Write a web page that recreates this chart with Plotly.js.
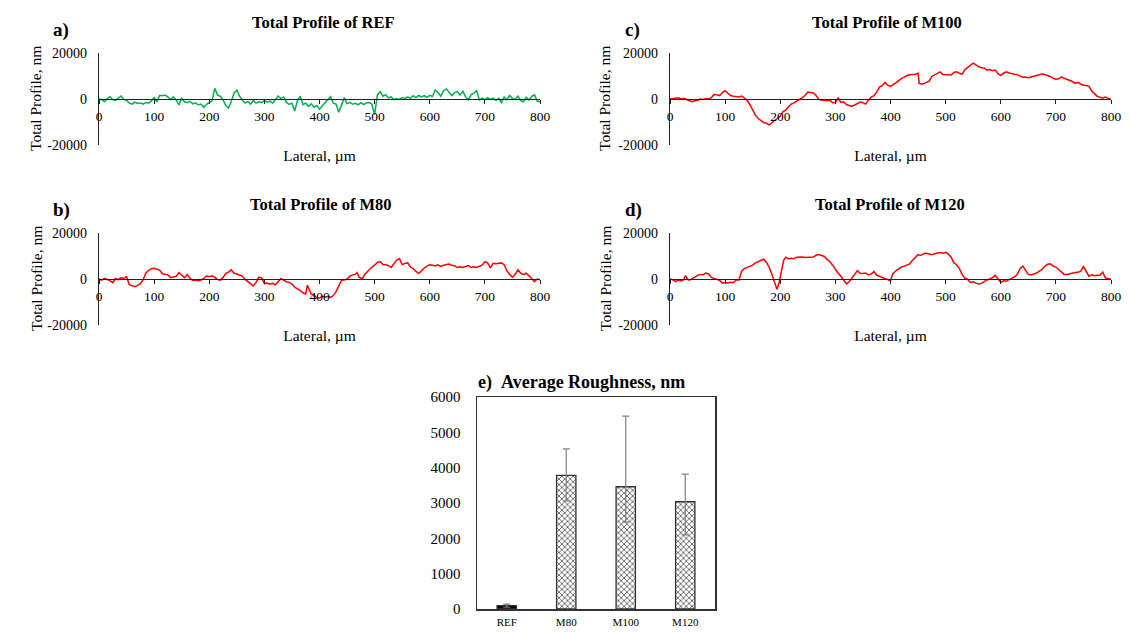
<!DOCTYPE html>
<html>
<head>
<meta charset="utf-8">
<script src="https://cdn.plot.ly/plotly-3.0.1.min.js"></script>
<style>html,body{margin:0;padding:0;background:#fff;}#chart{width:1135px;height:632px;}</style>
</head>
<body>
<div id="chart"></div>
<script>
// ---------- DATA ----------
// Profiles: [lateral position (µm), total profile (nm)]
const profileREF = [[0,0],[5,-300],[10,-1200],[15,200],[20,1000],[25,-300],[30,-600],[35,300],[40,1300],[45,-200],[50,-600],[55,-1800],[60,-2200],[65,-1400],[70,-1900],[75,-1700],[80,-2200],[85,-1500],[90,-1800],[95,-800],[100,600],[105,-1300],[110,1600],[115,1400],[120,1700],[125,800],[130,-200],[135,900],[140,-400],[145,-2600],[150,300],[155,-1200],[160,-1600],[165,-1000],[170,-2100],[175,-1700],[180,-2500],[185,-2200],[190,-3600],[195,-2300],[200,-1400],[205,-800],[210,4600],[215,1800],[220,1200],[225,-400],[230,-2800],[235,-3900],[240,-1000],[245,2500],[250,3900],[255,1200],[260,-500],[265,-1800],[270,-1100],[275,-2200],[280,-700],[285,-1800],[290,-1200],[295,-1600],[300,-700],[305,-1400],[310,-900],[315,-1800],[320,-300],[325,1300],[330,200],[335,900],[340,-1500],[345,-2300],[350,-1800],[355,-5200],[360,-700],[365,1200],[370,-2500],[375,-1800],[380,-3200],[385,-2100],[390,-3600],[395,-2800],[400,-4500],[405,-2900],[410,-1600],[415,-300],[420,1000],[425,-1800],[430,-2200],[435,-5800],[440,-3000],[445,600],[450,-2100],[455,-1500],[460,-2300],[465,-1900],[470,-2500],[475,-1600],[480,-2400],[485,-1700],[490,-1500],[495,-2200],[500,-6800],[505,1800],[510,3200],[515,1200],[520,1900],[525,500],[530,900],[535,-300],[540,200],[545,-200],[550,600],[555,200],[560,900],[565,300],[570,1400],[575,600],[580,1600],[585,900],[590,1500],[595,700],[600,1600],[605,1100],[610,3900],[615,2800],[620,1200],[625,3600],[630,4400],[635,2900],[640,1500],[645,2800],[650,3200],[655,1700],[660,3400],[665,900],[670,-300],[675,1900],[680,2500],[685,3600],[690,-400],[695,400],[700,-300],[705,600],[710,-200],[715,400],[720,-600],[725,300],[730,-1500],[735,900],[740,-300],[745,1500],[750,200],[755,-200],[760,1300],[765,-700],[770,-1200],[775,800],[780,-400],[785,1200],[790,1800],[795,-900],[800,-1200]];

const profileM80 = [[0,0],[5,-500],[10,300],[15,-200],[20,-800],[25,-1600],[30,200],[35,-300],[40,500],[45,300],[50,1000],[55,-2500],[60,-3000],[65,-3300],[70,-2800],[75,-2000],[80,-300],[85,2500],[90,3800],[95,4500],[100,4700],[105,4400],[110,3900],[115,2300],[120,2000],[125,1800],[130,600],[135,900],[140,1200],[145,2800],[150,1500],[155,600],[160,2000],[165,300],[170,-600],[175,-400],[180,-800],[185,-500],[190,300],[195,1300],[200,1000],[205,1400],[210,800],[215,-200],[220,-500],[225,600],[230,2500],[235,3000],[240,4000],[245,2500],[250,2200],[255,1800],[260,1300],[265,-200],[270,-1200],[275,-2000],[280,-3000],[285,-1500],[290,800],[295,500],[300,-2000],[305,-1800],[310,-2300],[315,-1900],[320,-2500],[325,-1200],[330,200],[335,-500],[340,-1200],[345,-1500],[350,-2200],[355,-3500],[360,-4200],[365,-5000],[370,-6000],[375,-6500],[378,-2700],[382,-4500],[385,-6500],[390,-7000],[395,-8200],[400,-8300],[405,-7500],[410,-7800],[415,-7600],[420,-8000],[425,-7200],[430,-5500],[435,-3000],[440,-500],[445,-400],[450,0],[455,1200],[460,1800],[465,2000],[468,2800],[472,700],[478,200],[482,2000],[490,4000],[495,5200],[500,6000],[505,7200],[510,7600],[515,6300],[520,6200],[525,5800],[530,5000],[535,6500],[540,8200],[545,8800],[550,6200],[555,6800],[560,7000],[565,5200],[570,4500],[575,3300],[580,2500],[585,3500],[590,4800],[595,5600],[600,6200],[605,6000],[610,5700],[615,6200],[620,5500],[625,6000],[630,6400],[635,6500],[640,6000],[645,5800],[650,5000],[655,5300],[660,5000],[665,5500],[670,5800],[675,5000],[680,5300],[685,5000],[690,5600],[695,6000],[700,7500],[705,7000],[710,4800],[715,6800],[720,6600],[725,6800],[730,7000],[735,6200],[740,3500],[745,2000],[750,800],[755,2000],[760,4000],[765,2500],[770,1900],[775,2500],[780,1500],[785,200],[790,-1200],[795,0],[800,-300]];

const profileM100 = [[0,0],[5,200],[10,600],[15,500],[20,0],[25,300],[30,-200],[35,-800],[40,-1200],[45,-800],[50,-600],[55,0],[60,-200],[65,200],[70,0],[75,600],[80,2000],[85,1800],[90,1500],[95,2800],[100,3600],[105,2500],[110,1500],[115,1200],[120,1200],[125,900],[130,1300],[135,200],[140,-600],[145,-2500],[150,-5000],[155,-7000],[160,-8500],[165,-9500],[170,-10200],[175,-10500],[180,-11300],[185,-10200],[190,-9300],[195,-8800],[200,-7500],[205,-5500],[210,-4800],[215,-3500],[220,-2200],[225,-1700],[230,-1000],[235,-200],[240,600],[245,1500],[250,3000],[255,2800],[260,2600],[265,1500],[270,-200],[275,-500],[280,-400],[285,-700],[290,-500],[295,-1600],[300,-1500],[305,500],[310,-1500],[315,-1200],[320,-2400],[325,-2800],[330,-3100],[335,-2600],[340,-1800],[345,-1300],[350,-1600],[355,-2200],[360,-500],[365,800],[370,1500],[375,3000],[380,5200],[385,5800],[390,7200],[395,6000],[400,5500],[405,6200],[410,7000],[415,8000],[420,9000],[425,9500],[430,10200],[435,10500],[440,10500],[445,10800],[450,11200],[452,6800],[455,6500],[460,6600],[465,7200],[470,7800],[475,9800],[480,10500],[485,11200],[490,11800],[495,10600],[500,10500],[505,10300],[510,10400],[515,11500],[520,11800],[525,11200],[530,10800],[535,12800],[540,13800],[545,14500],[550,15600],[555,14800],[560,14000],[565,13600],[570,13500],[575,12500],[580,12800],[585,12300],[590,12600],[595,11000],[600,10200],[605,11200],[610,11800],[615,11300],[620,11200],[625,10800],[630,10600],[635,10000],[640,9500],[645,9600],[650,9300],[655,9600],[660,9800],[665,10200],[670,10500],[675,11000],[680,10600],[685,10000],[690,9800],[695,9000],[700,8600],[705,8800],[710,9600],[715,9000],[720,8600],[725,8000],[730,7600],[735,6800],[740,7200],[745,6500],[750,6000],[755,5900],[760,5500],[765,3500],[770,2200],[775,1200],[780,800],[785,300],[790,800],[795,400],[800,-200]];

const profileM120 = [[0,0],[5,-300],[10,-1100],[15,-400],[20,-800],[25,-300],[28,1500],[32,-200],[35,-500],[40,0],[45,800],[50,1600],[55,2000],[60,1900],[65,2600],[70,2200],[75,700],[80,200],[85,-300],[90,-600],[95,-1800],[100,-1500],[105,-1700],[110,-1400],[115,-1600],[120,-300],[125,-500],[130,3500],[135,4500],[140,5000],[145,5300],[150,6000],[155,7000],[160,7600],[165,8000],[170,8600],[175,7200],[180,5000],[185,2000],[190,-2000],[194,-4500],[198,-1500],[202,4000],[206,8000],[210,9500],[215,8800],[220,9000],[225,8800],[230,9500],[235,9600],[240,9600],[245,9400],[250,9500],[255,9500],[260,9600],[265,10300],[270,10600],[275,10200],[280,9800],[285,8500],[290,7500],[295,6000],[300,4000],[305,2500],[310,1200],[315,-500],[320,-2100],[325,-1200],[330,200],[335,2000],[340,3600],[345,2500],[350,2400],[355,2600],[360,1800],[365,2200],[370,3200],[375,1600],[380,1200],[385,500],[390,100],[395,-200],[400,-800],[402,800],[405,2500],[410,3600],[415,4500],[420,5200],[425,5600],[430,6000],[435,6600],[440,8200],[445,9500],[450,10600],[455,10200],[460,11000],[465,11200],[470,10800],[475,10600],[480,11000],[485,11400],[490,11500],[495,11200],[500,11600],[505,10800],[510,9500],[515,7000],[520,6200],[525,4500],[530,2000],[535,300],[540,-200],[545,-1500],[550,-1200],[555,-1800],[560,-2200],[565,-1900],[570,-1000],[575,-400],[580,0],[585,600],[590,1600],[595,200],[600,-1500],[605,-800],[610,-1000],[615,-300],[620,200],[625,900],[630,2000],[635,4500],[640,5600],[645,3800],[650,2000],[655,1800],[660,2100],[665,2600],[670,3400],[675,4200],[680,5500],[685,6400],[690,6600],[695,5600],[700,5200],[705,4000],[710,2800],[715,2000],[720,2000],[725,2300],[730,2700],[735,2800],[740,2900],[745,3400],[750,5400],[755,3500],[760,1200],[765,1800],[770,1400],[775,1600],[780,1600],[785,3000],[790,400],[795,200],[800,-100]];

// Average roughness bar chart
const samples = ['REF', 'M80', 'M100', 'M120'];
const roughness = [95, 3780, 3460, 3035];
const roughnessErrPlus = [45, 750, 2000, 780];
const roughnessErrMinus = [45, 720, 1000, 935];

// Tick labels
const profileTickVals = [-20000, 0, 20000];
const profileTickText = ['-20000', '0', '20000'];
const lateralTicks = [0, 100, 200, 300, 400, 500, 600, 700, 800];

// ---------- LAYOUT ----------
const W = 1135, H = 632;
const FONT = 'Liberation Serif, Times New Roman, serif';
const px = v => v / W;
const py = v => 1 - v / H;

function profileTrace(data, color, xa, ya) {
  return {
    type: 'scatter', mode: 'lines',
    x: data.map(p => p[0]), y: data.map(p => p[1]),
    xaxis: xa, yaxis: ya,
    line: {color: color, width: 1.5},
    hoverinfo: 'x+y'
  };
}

function xAxisFor(x0, x1, yDom) {
  return {
    domain: [px(x0), px(x1)], range: [0, 800], anchor: 'free',
    position: (yDom[0] + yDom[1]) / 2,
    tickvals: lateralTicks, ticks: 'outside', ticklen: 4, tickcolor: '#222',
    showline: true, linecolor: '#222', linewidth: 1.3,
    showgrid: false, zeroline: false,
    tickfont: {family: FONT, size: 13.5, color: '#000'},
    title: {text: 'Lateral, µm', font: {family: FONT, size: 15.5, color: '#000'}, standoff: 27}
  };
}
function yAxisFor(yDom, xa) {
  return {
    domain: yDom, range: [-20000, 20000], anchor: xa,
    tickvals: profileTickVals, ticktext: profileTickText,
    ticks: 'inside', ticklen: 4, tickcolor: '#222',
    showline: true, linecolor: '#222', linewidth: 1.3,
    showgrid: false, zeroline: false, ticklabelstandoff: 8,
    tickfont: {family: FONT, size: 14, color: '#000'}
  };
}

const yTop = [py(145), py(53)];
const yMid = [py(325), py(233)];

const traces = [
  profileTrace(profileREF, '#00B050', 'x', 'y'),
  profileTrace(profileM100, '#FF0000', 'x2', 'y2'),
  profileTrace(profileM80, '#FF0000', 'x3', 'y3'),
  profileTrace(profileM120, '#FF0000', 'x4', 'y4'),
  {
    type: 'bar', x: samples, y: roughness, xaxis: 'x5', yaxis: 'y5',
    marker: {
      color: ['#000000', '#4a4a4a', '#4a4a4a', '#4a4a4a'],
      line: {color: '#333', width: 1.3},
      pattern: {shape: ['', 'x', 'x', 'x'], size: 4, solidity: 0.35}
    },
    error_y: {type: 'data', symmetric: false, array: roughnessErrPlus, arrayminus: roughnessErrMinus,
              color: '#808080', thickness: 1.2, width: 3.5}
  }
];

function ann(text, x, y, size, anchor, angle) {
  return {text: text, xref: 'paper', yref: 'paper', x: px(x), y: py(y),
          xanchor: anchor || 'center', yanchor: 'middle', showarrow: false,
          textangle: angle || 0,
          font: {family: FONT, size: size, color: '#000'}};
}

const layout = {
  width: W, height: H,
  margin: {l: 0, r: 0, t: 0, b: 0},
  paper_bgcolor: '#fff', plot_bgcolor: '#fff',
  showlegend: false,
  font: {family: FONT, color: '#000'},
  bargap: 0.675,
  xaxis: xAxisFor(99, 540, yTop), yaxis: yAxisFor(yTop, 'x'),
  xaxis2: xAxisFor(670, 1111, yTop), yaxis2: yAxisFor(yTop, 'x2'),
  xaxis3: xAxisFor(99, 540, yMid), yaxis3: yAxisFor(yMid, 'x3'),
  xaxis4: xAxisFor(670, 1111, yMid), yaxis4: yAxisFor(yMid, 'x4'),
  xaxis5: {
    domain: [px(477), px(715)], anchor: 'y5', type: 'category',
    showline: true, mirror: true, linecolor: '#333', linewidth: 1.5,
    ticks: '', showgrid: false, zeroline: false, ticklabelstandoff: 2,
    tickfont: {family: FONT, size: 11, color: '#000'}
  },
  yaxis5: {
    domain: [py(609), py(397)], anchor: 'x5', range: [0, 6000], dtick: 1000, tickformat: 'd',
    showline: true, mirror: true, linecolor: '#333', linewidth: 1.5,
    ticks: '', showgrid: false, zeroline: false, ticklabelstandoff: 12,
    tickfont: {family: FONT, size: 15, color: '#000'}
  },
  annotations: [
    ann('<b>Total Profile of REF</b>', 323, 23, 16.5),
    ann('<b>Total Profile of M100</b>', 887, 23, 16.5),
    ann('<b>Total Profile of M80</b>', 321, 205, 16.5),
    ann('<b>Total Profile of M120</b>', 890, 205, 16.5),
    ann('<b>a)</b>', 61, 30, 19),
    ann('<b>c)</b>', 632, 30, 19),
    ann('<b>b)</b>', 61, 210, 19),
    ann('<b>d)</b>', 633, 210, 19),
    ann('Total Profile, nm', 36, 99, 15.5, 'center', -90),
    ann('Total Profile, nm', 605, 99, 15.5, 'center', -90),
    ann('Total Profile, nm', 36, 279, 15.5, 'center', -90),
    ann('Total Profile, nm', 605, 279, 15.5, 'center', -90),
    ann('<b>e)\u00A0\u00A0Average Roughness, nm</b>', 476, 382, 18, 'left')
  ]
};

Plotly.newPlot('chart', traces, layout, {displayModeBar: false, staticPlot: true});
</script>
</body>
</html>
